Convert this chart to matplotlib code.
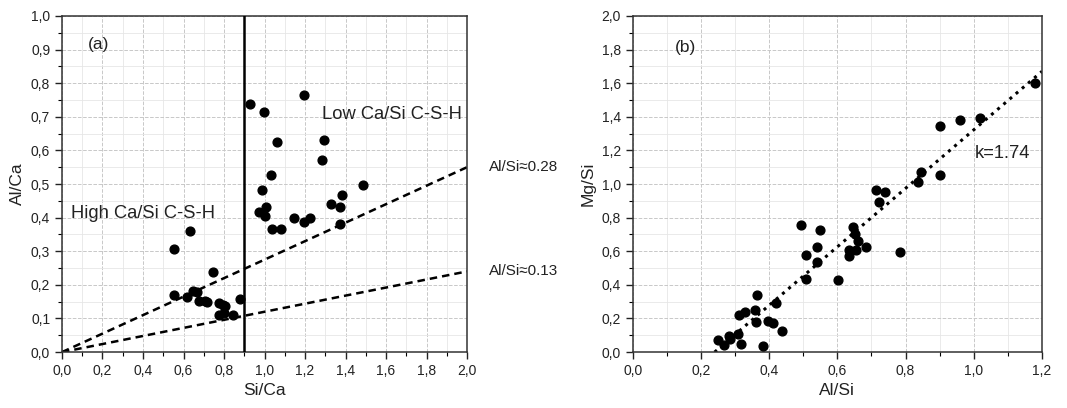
import numpy as np
import matplotlib
matplotlib.use("Agg")
import matplotlib.pyplot as plt
from matplotlib.ticker import MultipleLocator, FuncFormatter

plt.rcParams['font.family'] = ['Liberation Sans', 'DejaVu Sans']

# ------------------------------------------------------------
# Data, panel (a): Si/Ca vs Al/Ca
# ------------------------------------------------------------
si_ca = [0.551, 0.634, 0.551, 0.744, 0.647, 0.667, 0.617, 0.678, 0.708, 0.716,
         0.774, 0.795, 0.807, 0.777, 0.798, 0.843, 0.877,
         0.930, 0.996, 1.197, 1.062, 1.292, 1.284, 1.032, 0.988, 0.971,
         1.007, 1.000, 1.037, 1.081, 1.147, 1.197, 1.226, 1.330, 1.371,
         1.383, 1.371, 1.485]
al_ca = [0.306, 0.359, 0.170, 0.237, 0.183, 0.180, 0.164, 0.151, 0.151, 0.148,
         0.146, 0.141, 0.136, 0.111, 0.116, 0.109, 0.158,
         0.738, 0.713, 0.765, 0.626, 0.631, 0.570, 0.527, 0.481, 0.418,
         0.431, 0.405, 0.367, 0.367, 0.398, 0.386, 0.398, 0.441, 0.433,
         0.468, 0.381, 0.496]
boundary_si_ca = 0.9
ratio_lines = [0.275, 0.12]
ratio_labels = ["Al/Si\u22480.28", "Al/Si\u22480.13"]

# ------------------------------------------------------------
# Data, panel (b): Al/Si vs Mg/Si
# ------------------------------------------------------------
al_si = [0.251, 0.268, 0.281, 0.284, 0.310, 0.316, 0.313, 0.329, 0.358, 0.363,
         0.361, 0.382, 0.397, 0.410, 0.421, 0.439, 0.492, 0.509, 0.508, 0.540,
         0.540, 0.548, 0.601, 0.633, 0.633, 0.645, 0.652, 0.656, 0.661, 0.683,
         0.712, 0.721, 0.740, 0.785, 0.835, 0.844, 0.900, 0.902, 0.960, 1.017,
         1.178]
mg_si = [0.073, 0.044, 0.097, 0.077, 0.107, 0.048, 0.222, 0.238, 0.248, 0.341,
         0.178, 0.034, 0.188, 0.176, 0.295, 0.127, 0.757, 0.579, 0.434, 0.623,
         0.539, 0.724, 0.426, 0.605, 0.569, 0.747, 0.704, 0.605, 0.658, 0.628,
         0.962, 0.890, 0.950, 0.593, 1.009, 1.071, 1.348, 1.055, 1.382, 1.392,
         1.600]
fit_slope = 1.74
fit_x0 = 0.24

comma = FuncFormatter(lambda v, p: ("%.1f" % v).replace(".", ","))


def style_axes(ax, xmax, ymax, xmajor, xminor, ymajor, yminor):
    ax.set_xlim(0, xmax)
    ax.set_ylim(0, ymax)
    ax.xaxis.set_major_locator(MultipleLocator(xmajor))
    ax.xaxis.set_minor_locator(MultipleLocator(xminor))
    ax.yaxis.set_major_locator(MultipleLocator(ymajor))
    ax.yaxis.set_minor_locator(MultipleLocator(yminor))
    ax.xaxis.set_major_formatter(comma)
    ax.yaxis.set_major_formatter(comma)
    ax.grid(which='major', color='#c8c8c8', linestyle='--', linewidth=0.7)
    ax.grid(which='minor', color='#e6e6e6', linestyle='-', linewidth=0.6)
    ax.set_axisbelow(True)
    ax.tick_params(which='major', direction='out', length=5, width=1,
                   labelsize=10, colors='#222222')
    ax.tick_params(which='minor', direction='out', length=3, width=0.8)
    for s in ax.spines.values():
        s.set_linewidth(1.1)
        s.set_color('#333333')


fig = plt.figure(figsize=(10.67, 4.08), dpi=100)
ax1 = fig.add_axes([0.0581, 0.137, 0.3796, 0.824])
ax2 = fig.add_axes([0.593, 0.137, 0.3836, 0.824])

# ------------------------------------------------------------
# Panel (a)
# ------------------------------------------------------------
style_axes(ax1, 2.0, 1.0, 0.2, 0.1, 0.1, 0.05)
ax1.scatter(si_ca, al_ca, s=40, color='black', zorder=3)
ax1.axvline(boundary_si_ca, color='black', linewidth=1.8, zorder=4)
xs = np.array([0, 2.0])
for k, lab in zip(ratio_lines, ratio_labels):
    ax1.plot(xs, k * xs, color='black', linestyle='--', linewidth=1.8,
             dashes=(3, 2), zorder=2)
    ax1.text(2.11, k * 2.0, lab, fontsize=11, va='center', ha='left',
             clip_on=False, color='#222222')
ax1.text(0.13, 0.915, "(a)", fontsize=12.5, va='center', color='#222222')
ax1.text(0.045, 0.413, "High Ca/Si C-S-H", fontsize=13.2, va='center',
         color='#222222')
ax1.text(1.975, 0.706, "Low Ca/Si C-S-H", fontsize=13.2, va='center',
         ha='right', color='#222222')
ax1.set_xlabel("Si/Ca", fontsize=12.5, color='#222222')
ax1.set_ylabel("Al/Ca", fontsize=12.5, color='#222222')

# ------------------------------------------------------------
# Panel (b)
# ------------------------------------------------------------
style_axes(ax2, 1.2, 2.0, 0.2, 0.1, 0.2, 0.1)
ax2.scatter(al_si, mg_si, s=40, color='black', zorder=3)
fx = np.array([fit_x0, 1.2])
ax2.plot(fx, fit_slope * (fx - fit_x0), color='black', linestyle=':',
         linewidth=2.2, zorder=2)
ax2.text(0.125, 1.815, "(b)", fontsize=12.5, va='center', color='#222222')
ax2.text(1.004, 1.18, "k=1.74", fontsize=13.2, va='center', color='#222222')
ax2.set_xlabel("Al/Si", fontsize=12.5, color='#222222')
ax2.set_ylabel("Mg/Si", fontsize=12.5, color='#222222')

fig.savefig("out.png", dpi=100)
